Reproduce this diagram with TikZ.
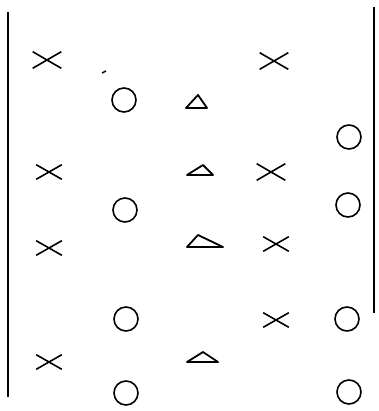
\documentclass[tikz,border=0pt]{standalone}
\usetikzlibrary{shapes.misc}
\tikzset{
  xmark/.style={
    cross out, draw,
    line width=1.6pt,
    minimum width=24pt, minimum height=13pt,
    inner sep=0pt
  },
  omark/.style={
    circle, draw,
    line width=1.6pt,
    minimum size=24pt,
    inner sep=0pt
  },
  tmark/.style={draw, line width=1.8pt, line join=round},
  sideline/.style={line width=1.5pt}
}
\begin{document}
\begin{tikzpicture}[x=1pt, y=-1pt]
  \useasboundingbox (0,0) rectangle (378,411);
  % side lines
  \draw[sideline] (8,12) -- (8,397);
  \draw[sideline] (374,7) -- (374,313);

  % crosses
  \node[xmark, minimum width=27pt, minimum height=15pt] (x1) at (47,60) {};
  \node[xmark, minimum width=27pt, minimum height=15pt] (x2) at (274,61) {};
  \node[xmark] (x3) at (49,172) {};
  \node[xmark, minimum width=27pt, minimum height=15pt] (x4) at (271,172) {};
  \node[xmark] (x5) at (49,248) {};
  \node[xmark] (x6) at (276,244) {};
  \node[xmark] (x7) at (276,320) {};
  \node[xmark] (x8) at (49,362) {};

  % circles
  \node[omark] (o1) at (124,100) {};
  \node[omark] (o2) at (349,137) {};
  \node[omark] (o3) at (125,210) {};
  \node[omark] (o4) at (348,205) {};
  \node[omark] (o5) at (126,319) {};
  \node[omark] (o6) at (347,319) {};
  \node[omark] (o7) at (126,393) {};
  \node[omark] (o8) at (349,392) {};

  % triangles
  \draw[tmark] (186,108) -- (198,95) -- (207,108) -- cycle;
  \draw[tmark] (187,175) -- (203,165) -- (213,175) -- cycle;
  \draw[tmark] (187,247) -- (198,235) -- (223,247) -- cycle;
  \draw[tmark] (187,362) -- (203,352) -- (218,362) -- cycle;

  % small tick
  \draw[line width=1.4pt] (102,73) -- (106,71);
\end{tikzpicture}
\end{document}
